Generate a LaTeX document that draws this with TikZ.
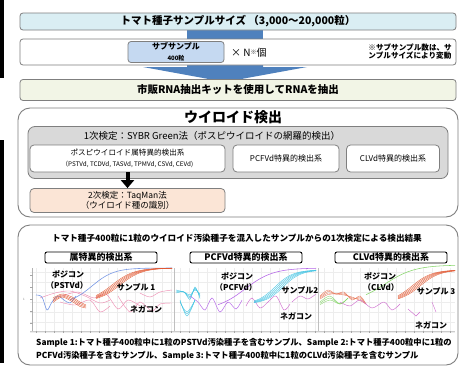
\documentclass[tikz,border=0pt]{standalone}
\usepackage{fontspec}
\setmainfont{Noto Sans CJK JP}
\usetikzlibrary{arrows.meta}
\definecolor{bordergray}{HTML}{7F7F7F}
\definecolor{topblue}{HTML}{DAEEF3}
\definecolor{subblue}{HTML}{C5D9F1}
\definecolor{arrowblue}{HTML}{4F81BD}
\definecolor{rnacream}{HTML}{F2F5E6}
\definecolor{graybox}{HTML}{D9D9D9}
\definecolor{peach}{HTML}{FBE5D6}
\definecolor{cblue}{HTML}{7C9BE6}
\definecolor{cred}{HTML}{E2552E}
\definecolor{cpink}{HTML}{EE90B4}
\definecolor{cpurple}{HTML}{B565E8}
\definecolor{ccyan}{HTML}{3EC3E3}
\definecolor{cgreen}{HTML}{86D66A}
\definecolor{cmag}{HTML}{D070D0}
\definecolor{gridc}{HTML}{EDEDED}
\tikzset{
  flowbox/.style={draw=bordergray, line width=0.8pt, rounded corners=3pt, align=center, inner sep=0pt},
  bigframe/.style={draw=bordergray, line width=0.9pt, rounded corners=12pt},
  labelbox/.style={draw=black, line width=0.9pt, rounded corners=2pt, fill=white, inner sep=0pt, font=\fontsize{9}{10}\selectfont\bfseries},
  chartlbl/.style={font=\fontsize{8}{9}\selectfont\bfseries, align=center, inner sep=0pt},
  curve/.style={line width=0.45pt, smooth},
  thin curve/.style={line width=0.35pt},
}
\begin{document}
\begin{tikzpicture}[x=1pt,y=-1pt]
\useasboundingbox (0,0) rectangle (462,372);
\fill[white] (0,0) rectangle (462,372);
% left edge black strips
\fill[black] (0,0) rectangle (3.5,78);
\fill[black] (0,140) rectangle (3.5,363);

% top connector
\fill[arrowblue] (187,29) rectangle (263,40);
% big downward arrow
\fill[arrowblue] (187,64) -- (263,64) -- (263,67) -- (307,67) -- (225,82) -- (143,67) -- (187,67) -- cycle;

% top box
\node[flowbox, fill=topblue, minimum width=436pt, minimum height=17pt,
      font=\fontsize{10.5}{12}\selectfont\bfseries] (top) at (238,21.5)
      {トマト種子サンプルサイズ （3,000～20,000粒）};
% second box
\node[flowbox, fill=white, minimum width=436pt, minimum height=26pt] (second) at (238,52) {};
\node[flowbox, fill=subblue, minimum width=96pt, minimum height=21pt] (sub) at (176,52)
      {{\fontsize{8}{9}\selectfont\bfseries サブサンプル}\\[-1pt]{\fontsize{6}{7}\selectfont\bfseries 400粒}};
\node[inner sep=0pt, anchor=west, font=\fontsize{10}{11}\selectfont] (times) at (231,52.5) {× N\raisebox{2pt}{\fontsize{6}{6}\selectfont ※}個};
\node[inner sep=0pt, anchor=east, align=left, font=\fontsize{7.6}{8.6}\selectfont\bfseries] (note) at (452,51.5)
      {※サブサンプル数は、サ\\ンプルサイズにより変動};
% RNA box
\node[flowbox, fill=rnacream, minimum width=436pt, minimum height=21pt,
      font=\fontsize{10.5}{12}\selectfont\bfseries] (rna) at (238,90)
      {市販RNA抽出キットを使用してRNAを抽出};

% viroid detection frame
\node[bigframe, minimum width=440pt, minimum height=109pt] (vframe) at (238,162.5) {};
\node[inner sep=0pt, font=\fontsize{14}{15}\selectfont\bfseries] (vtitle) at (233,117.5) {ウイロイド検出};
\node[flowbox, fill=graybox, rounded corners=7pt, minimum width=420pt, minimum height=52pt] (sybr) at (238,152.5) {};
\node[inner sep=0pt, font=\fontsize{9.5}{10}\selectfont] (sybrt) at (212,136) {1次検定：SYBR Green法（ポスピウイロイドの網羅的検出）};
\node[flowbox, fill=white, rounded corners=4pt, minimum width=195pt, minimum height=27pt] (boxa) at (127.5,158.5)
      {{\fontsize{7.6}{8}\selectfont ポスピウイロイド属特異的検出系}\\[-0.5pt]{\fontsize{6.3}{7}\selectfont （PSTVd, TCDVd, TASVd, TPMVd, CSVd, CEVd)}};
\node[flowbox, fill=white, rounded corners=4pt, minimum width=106pt, minimum height=27pt,
      font=\fontsize{8}{9}\selectfont] (boxb) at (286,158.5) {PCFVd特異的検出系};
\node[flowbox, fill=white, rounded corners=4pt, minimum width=93pt, minimum height=27pt,
      font=\fontsize{8}{9}\selectfont] (boxc) at (393,158.5) {CLVd特異的検出系};
\node[flowbox, fill=peach, rounded corners=4pt, minimum width=195pt, minimum height=24pt,
      font=\fontsize{8.5}{10}\selectfont] (taq) at (127.5,200.5)
      {2次検定：TaqMan法\\（ウイロイド種の識別）};
\draw[line width=4pt, -{Triangle[length=8pt,width=13pt]}] (boxa.south) -- (taq.north);

% results frame
\node[bigframe, minimum width=440pt, minimum height=140pt] (rframe) at (238,295) {};
\node[inner sep=0pt, font=\fontsize{8.6}{10}\selectfont\bfseries] (rtitle) at (237,238.5)
      {トマト種子400粒に1粒のウイロイド汚染種子を混入したサンプルからの1次検定による検出結果};

% charts background grid
\begin{scope}
  \foreach \x in {36,45,...,455} \draw[gridc, line width=0.4pt] (\x,268) -- (\x,331);
  \foreach \y in {272,282,...,332} \draw[gridc, line width=0.4pt] (30,\y) -- (455,\y);
  \draw[gray!60, line width=0.4pt] (32,268) -- (32,331);
  \foreach \y in {275,287,299,311,323,331} \draw[gray!70, line width=0.3pt] (30,\y) -- (33,\y);
  \draw[gray!40, line width=0.4pt] (30,331) -- (455,331);
  \foreach \x in {36,45,...,455} \draw[gray!70, line width=0.3pt] (\x,331) -- (\x,333);
  \draw[gray!50, line width=0.5pt] (174,268) -- (174,331);
  \draw[gray!50, line width=0.5pt] (318,268) -- (318,331);
  \node[inner sep=0pt, font=\fontsize{3}{3}\selectfont, text=gray] at (24,299) {1};
\end{scope}

% ---- panel 1 ----
% negative (pink)
\draw[cpink, curve] plot coordinates {(40,298) (55,293) (70,291) (85,296) (100,303) (110,300)};
\draw[cpink, curve] plot coordinates {(62,296) (78,292) (94,298) (106,294) (118,309) (128,300) (140,306)};
\draw[cpink, curve] plot coordinates {(118,296) (130,312) (140,302) (152,311) (160,304) (172,303)};
\draw[cpink, curve] plot coordinates {(60,302) (75,305) (90,300) (100,312) (110,306)};
\draw[cpink, curve] plot coordinates {(140,293) (150,297) (160,292) (172,290)};
% blue positive
\draw[cblue, line width=0.6pt, smooth] plot coordinates {(36,295) (42,297) (47,310) (52,302) (58,296) (64,300) (70,303) (76,296)};
\draw[cblue, line width=0.6pt, domain=70:172, samples=40] plot (\x, {304-36/(1+exp(-(\x-92)/11))});
% red sample 1
\foreach \s in {0,2,...,8}
  \draw[cred, thin curve] plot[domain=96:172, samples=40] (\x, {302-34/(1+exp(-(\x-(112+\s))/11))});
\foreach \s in {0,3,...,9}
  \draw[cred, thin curve, smooth] plot coordinates {(53,298+\s/2) (62,294+\s/3) (72,297+\s/2) (80,302+\s/2) (86,305+\s/3)};
\node[chartlbl] (pc1) at (68,274.5) {ポジコン};
\node[chartlbl] (pc1b) at (67,285) {（PSTVd）};
\node[chartlbl] (s1) at (136,287) {サンプル 1};
\node[chartlbl] (nc1) at (146,309) {ネガコン};

% ---- panel 2 ----
\foreach \s in {0,3,...,9}
  \draw[ccyan, thin curve, smooth] plot coordinates {(176,290+\s/3) (184,292) (190,295+\s/2) (195,290-\s/3) (200,294+\s/2)};
\foreach \s in {0,4,8}
  \draw[ccyan, thin curve, smooth] plot coordinates {(180,300+\s/4) (187,316-\s/2) (195,300)};
\draw[cpurple, curve] plot coordinates {(190,296) (198,302) (205,310) (212,298) (220,312) (228,302) (236,309) (242,300)};
\draw[cpurple, line width=0.55pt, domain=218:316, samples=40] plot (\x, {310-42/(1+exp(-(\x-245)/14))});
\draw[cmag, curve] plot coordinates {(246,306) (252,298) (260,308) (268,302) (276,296) (284,310) (290,304)};
\draw[cmag, curve] plot coordinates {(292,302) (300,296) (308,299) (316,294)};
\foreach \s in {0,2,...,8}
  \draw[ccyan, thin curve] plot[domain=254:316, samples=30] (\x, {304-34/(1+exp(-(\x-(275+\s))/9))});
\node[chartlbl] (pc2) at (237,276) {ポジコン};
\node[chartlbl] (pc2b) at (236,287) {（PCFVd）};
\node[chartlbl] (s2) at (300,290) {サンプル2};
\node[chartlbl] (nc2) at (296,316.5) {ネガコン};

% ---- panel 3 ----
\foreach \s in {0,3,...,9}
  \draw[cred!80, thin curve, smooth] plot coordinates {(320,296+\s/3) (328,290+\s/2) (336,294) (344,292+\s/3) (352,300-\s/3) (360,296+\s/2) (366,304)};
\foreach \s in {0,4,8}
  \draw[cgreen, thin curve, smooth] plot coordinates {(320,302+\s/3) (330,296+\s/2) (340,304) (348,298)};
\draw[cmag, curve] plot coordinates {(340,302) (350,306) (360,300) (372,308) (384,302) (392,310) (400,304)};
\draw[cmag, curve] (408,309) -- (416,316) -- (420,312);
\draw[cmag, curve] (432,302) -- (436,312);
\draw[cgreen, line width=0.55pt] plot[domain=366:455, samples=40] (\x, {303-38/(1+exp(-(\x-385)/15))});
\foreach \s in {0,2,...,8}
  \draw[cred, thin curve] plot[domain=398:455, samples=30] (\x, {302-32/(1+exp(-(\x-(412+\s))/10))});
\node[chartlbl] (pc3) at (380,276) {ポジコン};
\node[chartlbl] (pc3b) at (381,287) {（CLVd）};
\node[chartlbl] (s3) at (436,291) {サンプル 3};
\node[chartlbl] (nc3) at (431,325.5) {ネガコン};

% label boxes
\node[labelbox, minimum width=112pt, minimum height=11pt] (lb1) at (101,257.5) {属特異的検出系};
\node[labelbox, minimum width=112pt, minimum height=11pt] (lb2) at (246,257.5) {PCFVd特異的検出系};
\node[labelbox, minimum width=112pt, minimum height=11pt] (lb3) at (391,257.5) {CLVd特異的検出系};

% bottom caption
\node[inner sep=0pt, align=left, anchor=west, font=\fontsize{8.3}{12.5}\selectfont\bfseries] (cap) at (36,349.5)
  {Sample 1:トマト種子400粒中に1粒のPSTVd汚染種子を含むサンプル、Sample 2:トマト種子400粒中に1粒の\\
   PCFVd汚染種子を含むサンプル、Sample 3:トマト種子400粒中に1粒のCLVd汚染種子を含むサンプル};
\end{tikzpicture}
\end{document}
